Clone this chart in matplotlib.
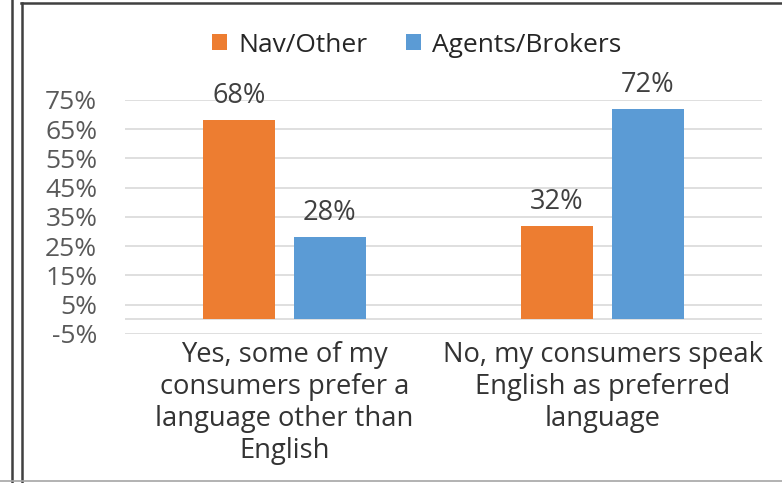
import matplotlib
matplotlib.use("Agg")
import matplotlib.pyplot as plt
from matplotlib.lines import Line2D
import numpy as np

plt.rcParams['font.family'] = ['Open Sans', 'DejaVu Sans']

# Survey answers and shares per channel
categories = ["Yes, some of my\nconsumers prefer a\nlanguage other than\nEnglish",
              "No, my consumers speak\nEnglish as preferred\nlanguage"]
series_names = ["Nav/Other", "Agents/Brokers"]
nav_other = [68, 32]
agents_brokers = [28, 72]
y_ticks = [-5, 5, 15, 25, 35, 45, 55, 65, 75]

colors = ["#ED7D31", "#5B9BD5"]

fig = plt.figure(figsize=(7.82, 4.83), dpi=100)
ax = fig.add_axes([0.160, 0.309, 0.814, 0.484])

x = np.arange(len(categories))
width = 0.225
offset = 0.143

bars1 = ax.bar(x - offset, nav_other, width, color=colors[0], label=series_names[0], zorder=3)
bars2 = ax.bar(x + offset, agents_brokers, width, color=colors[1], label=series_names[1], zorder=3)

for bars in (bars1, bars2):
    for b in bars:
        ax.text(b.get_x() + b.get_width() / 2, b.get_height() + 5.8, f"{int(b.get_height())}%",
                ha="center", va="baseline", fontsize=19.5, color="#404040")

ax.set_xlim(-0.5, 1.5)
ax.set_ylim(-5, 75)
ax.set_yticks(y_ticks)
ax.set_yticklabels([f"{t}%" for t in y_ticks], fontsize=19, color="#595959")
ax.set_xticks(x)
ax.set_xticklabels(categories, fontsize=19.7, color="#333333", linespacing=1.2)
ax.tick_params(axis="both", length=0)
ax.tick_params(axis="y", pad=20)
ax.tick_params(axis="x", pad=5)

for s in ax.spines.values():
    s.set_visible(False)
ax.grid(axis="y", color="#d9d9d9", linewidth=1.2, zorder=0)
ax.axhline(0, color="#d9d9d9", linewidth=1.2, zorder=1)

leg = fig.legend(handles=[bars1, bars2], labels=series_names, loc="center",
                 bbox_to_anchor=(417 / 782, 1 - 45 / 483), ncol=2, frameon=False,
                 fontsize=19, handlelength=0.55, handleheight=0.55, handletextpad=0.45,
                 columnspacing=1.45, borderaxespad=0, borderpad=0)
for t in leg.get_texts():
    t.set_color("#262626")

# panel borders
fig.add_artist(Line2D([11.5 / 782, 11.5 / 782], [0, 1], transform=fig.transFigure, color="#404040", lw=1.8))
fig.add_artist(Line2D([21.5 / 782, 21.5 / 782], [0, 1 - 3 / 483], transform=fig.transFigure, color="#404040", lw=1.8))
fig.add_artist(Line2D([21 / 782, 1], [1 - 3 / 483, 1 - 3 / 483], transform=fig.transFigure, color="#404040", lw=1.8))
fig.add_artist(Line2D([0, 1], [2.5 / 483, 2.5 / 483], transform=fig.transFigure, color="#a6a6a6", lw=1.2))

fig.savefig("out.png", dpi=100)
